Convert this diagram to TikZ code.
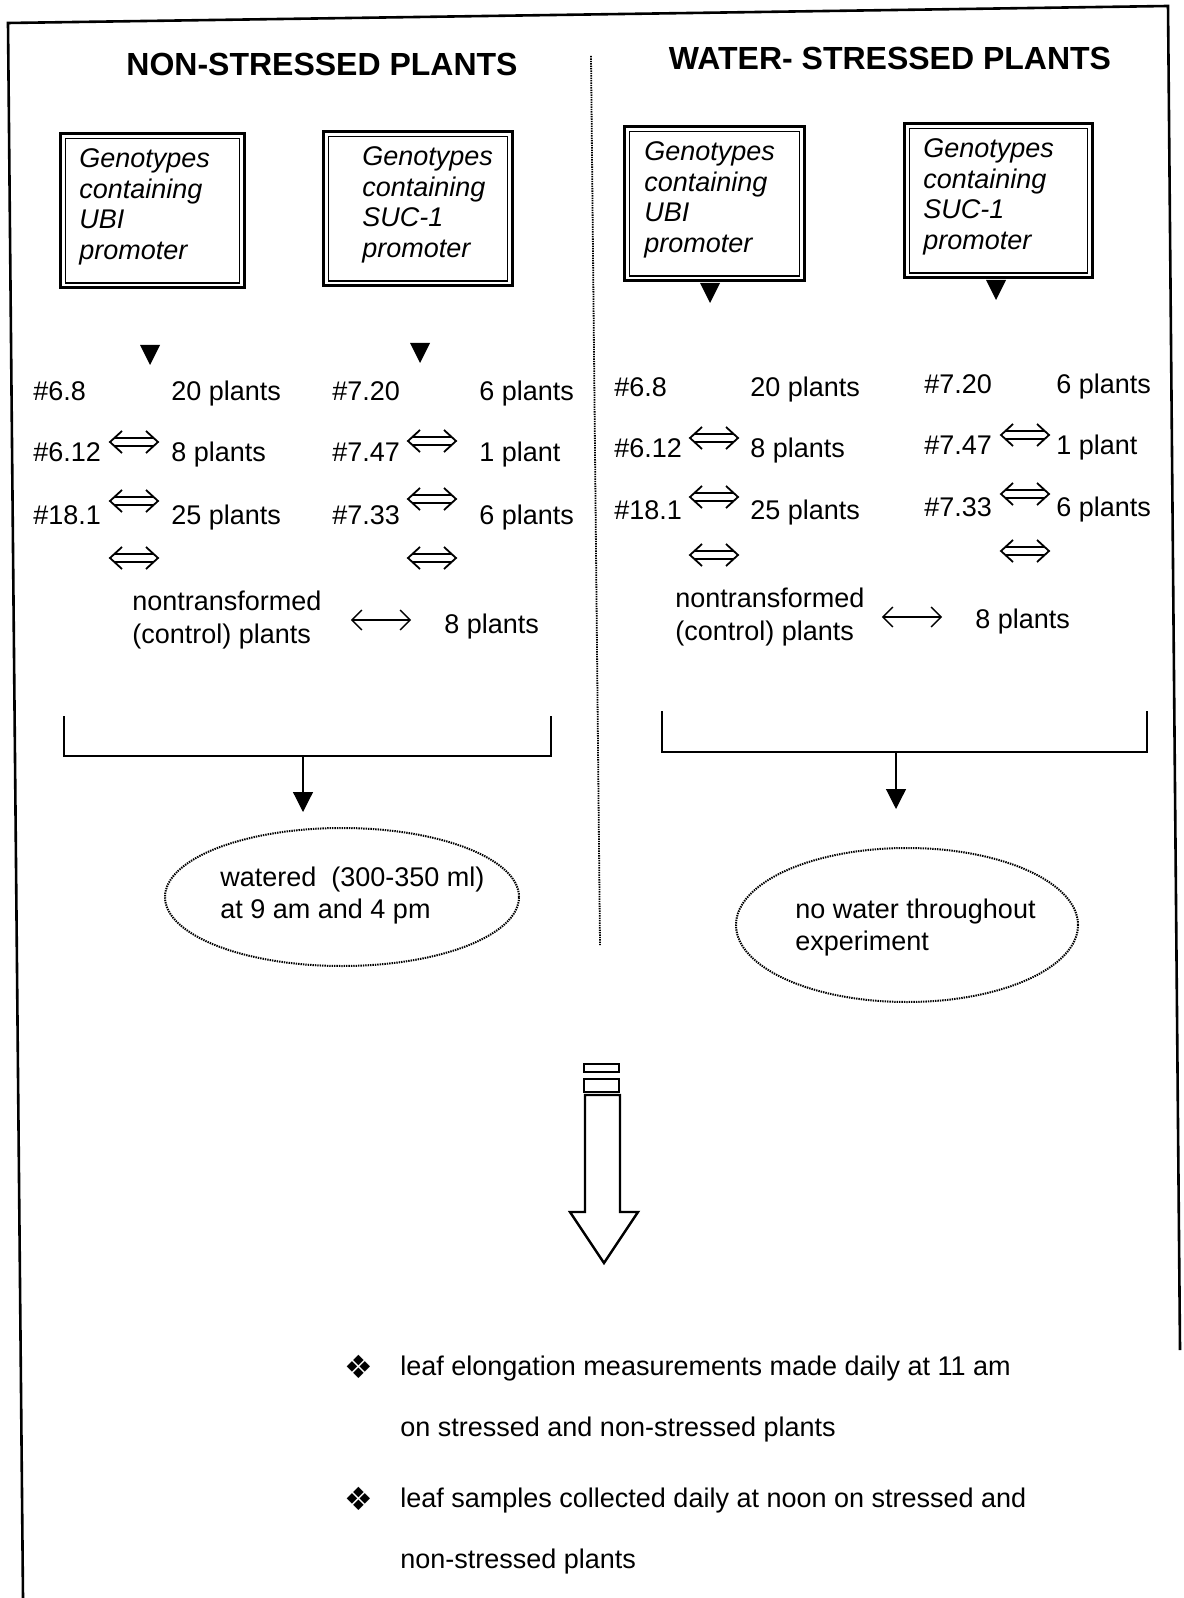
\documentclass[tikz,border=0pt]{standalone}
\usepackage{fontspec}
\setmainfont{Liberation Sans}
\newfontfamily\symfont{DejaVu Sans}
\usetikzlibrary{arrows.meta,shapes.geometric}

\begin{document}
\begin{tikzpicture}[x=0.5pt,y=-0.5pt,
    every node/.style={font=\fontsize{13.5}{15.5}\selectfont,inner sep=0pt},
    hd/.style={font=\fontsize{16}{19}\selectfont\bfseries},
    gbox/.style={draw,line width=1.5pt,minimum height=77pt,
                 path picture={\draw[line width=0.7pt]
                   ([shift={(2.4pt,2.4pt)}]path picture bounding box.south west)
                   rectangle
                   ([shift={(-2.4pt,-2.4pt)}]path picture bounding box.north east);}},
    gtxt/.style={anchor=west,align=left,
                 font=\fontsize{13.5}{15.3}\selectfont\itshape},
    lbl/.style={anchor=west,text height=9.6pt,text depth=0pt},
    ctl/.style={anchor=west,align=left,font=\fontsize{13.5}{16.5}\selectfont},
    wet/.style={ellipse,draw,line width=1pt,dash pattern=on 0.7pt off 0.5pt},
    wtxt/.style={anchor=west,align=left,font=\fontsize{13.5}{16}\selectfont},
    brk/.style={line width=1.1pt},
    drop/.style={line width=0.6pt,-{Triangle[width=10pt,length=10pt]}},
    lr/.style={line width=0.7pt,
               {Straight Barb[length=5pt,width=10pt]}-{Straight Barb[length=5pt,width=10pt]}},
    hollow/.style={line width=1.2pt,line join=miter},
    itm/.style={anchor=west,align=left,font=\fontsize{13.5}{30.5}\selectfont},
    blt/.style={font=\fontsize{16}{16}\symfont},
    tri/.pic={\fill (-10,-10) -- (10,-10) -- (0,10) -- cycle;},
    dbl/.pic={\draw[line width=0.9pt]
                (-12,-11) -- (-24,0) -- (-12,11) (12,-11) -- (24,0) -- (12,11)
                (-20,-4) -- (20,-4) (-20,4) -- (20,4);}]
  %-------------------------------------------------- frame and divider
  \useasboundingbox (0,0) rectangle (1183,1598);
  \draw[line width=1.3pt] (23,1598) -- (8,23) -- (1168,6) -- (1180,1350);
  \draw[line width=0.9pt,dash pattern=on 0.7pt off 0.5pt] (591,56) -- (600,945);
  %-------------------------------------------------- non-stressed plants
  \node[hd] (hn) at (322,64) {NON-STRESSED PLANTS};
  \node[gbox,minimum width=92pt] (bu1) at (152.5,211) {};
  \node[gtxt] (tu1) at (79,207) {Genotypes\\containing\\UBI\\promoter};
  \node[gbox,minimum width=94.5pt] (bs1) at (418,209) {};
  \node[gtxt] (ts1) at (362,205) {Genotypes\\containing\\SUC-1\\promoter};
  \pic at (150,355) {tri};
  \pic at (420,353) {tri};
  \foreach \lin/\cnt/\yy [count=\i] in {6.8/20 plants/391,6.12/8 plants/452,
                                        18.1/25 plants/515}{
    \node[lbl] (gu\i) at (33,\yy) {\#\lin};
    \node[lbl] (nu\i) at (171,\yy) {\cnt};
  }
  \foreach \lin/\cnt/\yy [count=\i] in {7.20/6 plants/391,7.47/1 plant/452,
                                        7.33/6 plants/515}{
    \node[lbl] (gs\i) at (332,\yy) {\#\lin};
    \node[lbl] (ns\i) at (479,\yy) {\cnt};
  }
  \foreach \yy in {442,501,558} \pic at (134,\yy) {dbl};
  \foreach \yy in {441,499,558} \pic at (432,\yy) {dbl};
  \node[ctl] (cn) at (132,620) {nontransformed\\(control) plants};
  \node[lbl] (kn) at (444,624) {8 plants};
  \draw[lr,shorten <=14.5pt,shorten >=16.5pt] (cn.east) -- (cn.east -| kn.west);
  \draw[brk] (64,716) -- (64,756) -- (551,756) -- (551,716);
  \coordinate (brn) at (303,756);
  \node[wet,minimum width=177pt,minimum height=69pt] (wn) at (342,897) {};
  \node[wtxt] (wnt) at (220,896) {watered\ \ (300-350 ml)\\at 9 am and 4 pm};
  \draw[drop,shorten >=7.5pt] (brn) -- (brn |- wn.north);
  %-------------------------------------------------- water-stressed plants
  \node[hd] (hw) at (890,58) {WATER- STRESSED PLANTS};
  \node[gbox,minimum width=90pt] (bu2) at (714.5,204) {};
  \node[gtxt] (tu2) at (644,200) {Genotypes\\containing\\UBI\\promoter};
  \node[gbox,minimum width=94pt] (bs2) at (998.5,201) {};
  \node[gtxt] (ts2) at (923,197) {Genotypes\\containing\\SUC-1\\promoter};
  \pic at (710,293) {tri};
  \pic at (996,290) {tri};
  \foreach \lin/\cnt/\yy [count=\i] in {6.8/20 plants/387,6.12/8 plants/448,
                                        18.1/25 plants/510}{
    \node[lbl] (hu\i) at (614,\yy) {\#\lin};
    \node[lbl] (mu\i) at (750,\yy) {\cnt};
  }
  \foreach \lin/\cnt/\yy [count=\i] in {7.20/6 plants/384,7.47/1 plant/445,
                                        7.33/6 plants/507}{
    \node[lbl] (hs\i) at (924,\yy) {\#\lin};
    \node[lbl] (ms\i) at (1056,\yy) {\cnt};
  }
  \foreach \yy in {438,497,555} \pic at (714,\yy) {dbl};
  \foreach \yy in {435,494,551} \pic at (1025,\yy) {dbl};
  \node[ctl] (cw) at (675,617) {nontransformed\\(control) plants};
  \node[lbl] (kw) at (975,619) {8 plants};
  \draw[lr,shorten <=8.5pt,shorten >=16.5pt] (cw.east) -- (cw.east -| kw.west);
  \draw[brk] (662,711) -- (662,752) -- (1147,752) -- (1147,711);
  \coordinate (brw) at (896,752);
  \node[wet,minimum width=171pt,minimum height=77pt] (ww) at (907,925) {};
  \node[wtxt] (wwt) at (795,928) {no water throughout\\experiment};
  \draw[drop,shorten >=19pt] (brw) -- (brw |- ww.north);
  %-------------------------------------------------- measurements
  \draw[hollow] (584,1064) rectangle (619,1072);
  \draw[hollow] (584,1079) rectangle (619,1092);
  \draw[hollow] (585,1095) -- (585,1212) -- (570,1212) -- (604,1263)
    -- (638,1212) -- (620,1212) -- (620,1095) -- cycle;
  \node[blt] (d1) at (359,1367) {❖};
  \node[itm] (m1) at (400,1399)
    {leaf elongation measurements made daily at 11 am\\on stressed and non-stressed plants};
  \node[blt] (d2) at (359,1499) {❖};
  \node[itm] (m2) at (400,1531)
    {leaf samples collected daily at noon on stressed and\\non-stressed plants};
\end{tikzpicture}
\end{document}
